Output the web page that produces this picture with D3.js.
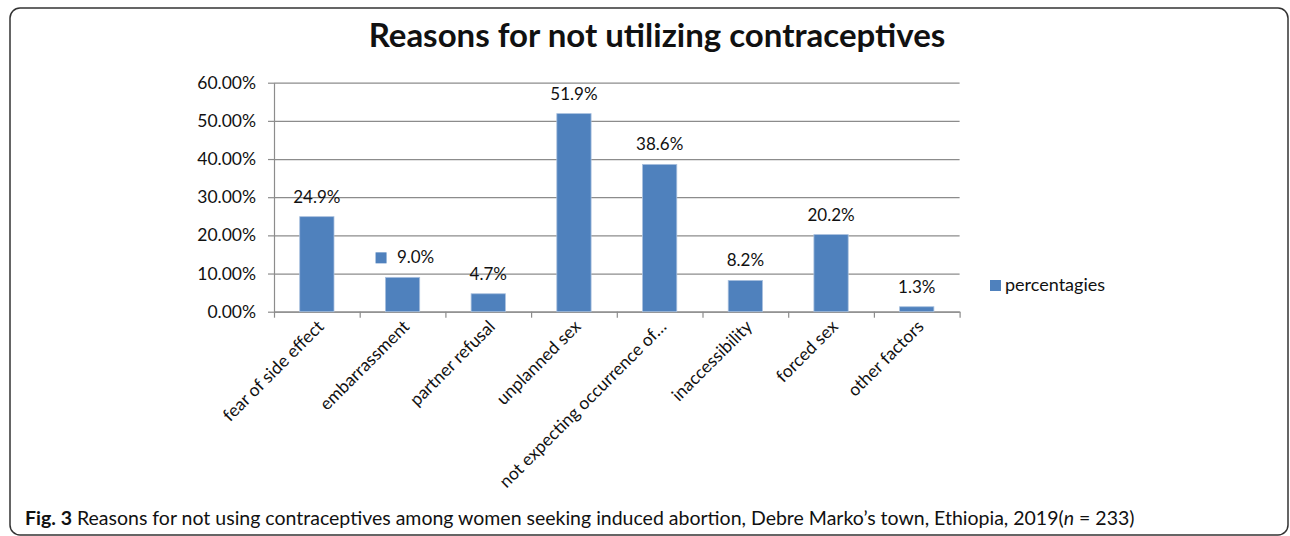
<!DOCTYPE html>
<html>
<head>
<meta charset="utf-8">
<script src="https://cdn.jsdelivr.net/npm/d3@7/dist/d3.min.js"></script>
<style>
  html, body { margin: 0; padding: 0; background: #fff; }
  svg text { font-family: Lato, "Open Sans", sans-serif; fill: #111; }
</style>
</head>
<body>
<div id="root"></div>
<script>
const categories = ['fear of side effect', 'embarrassment', 'partner refusal', 'unplanned sex',
  'not expecting occurrence of…', 'inaccessibility', 'forced sex', 'other factors']
const percentages = [24.9, 9.0, 4.7, 51.9, 38.6, 8.2, 20.2, 1.3]
const yTicks = [0, 10, 20, 30, 40, 50, 60]
const seriesName = 'percentagies'
const chartTitle = 'Reasons for not utilizing contraceptives'

const WIDTH = 1290
const HEIGHT = 536
const PLOT_LEFT = 274
const PLOT_RIGHT = 959.6
const PLOT_TOP = 82.7
const PLOT_BOTTOM = 311.7
const BAR_COLOR = '#4f81bd'
const GRID_COLOR = '#8c8c8c'

const svg = d3.select('#root')
    .append('svg')
    .attr('width', WIDTH)
    .attr('height', HEIGHT)

// outer frame of the figure
svg.append('rect')
    .attr('x', 10)
    .attr('y', 8)
    .attr('width', 1278)
    .attr('height', 527)
    .attr('rx', 10)
    .attr('fill', 'none')
    .attr('stroke', '#333')
    .attr('stroke-width', 1.5)

const xScale = d3.scaleBand()
    .domain(categories)
    .range([PLOT_LEFT, PLOT_RIGHT])
    .paddingInner(0.6)
    .paddingOuter(0.3)

const xBoundary = d3.scaleLinear()
    .domain([0, categories.length])
    .range([PLOT_LEFT, PLOT_RIGHT])

const yScale = d3.scaleLinear()
    .domain([0, 60])
    .range([PLOT_BOTTOM, PLOT_TOP])

// gridlines
svg.append('g')
    .attr('transform', `translate(${PLOT_LEFT},0)`)
    .call(d3.axisLeft(yScale).tickValues(yTicks).tickSize(-(PLOT_RIGHT - PLOT_LEFT)).tickFormat(''))
    .call(g => g.select('.domain').remove())
    .call(g => g.selectAll('line').attr('stroke', GRID_COLOR).attr('stroke-width', 1.2))

// y axis
svg.append('g')
    .attr('id', 'y-axis')
    .attr('transform', `translate(${PLOT_LEFT},0)`)
    .call(d3.axisLeft(yScale).tickValues(yTicks).tickSize(6).tickPadding(12).tickSizeOuter(0)
        .tickFormat(d => d.toFixed(2) + '%'))
    .call(g => g.select('.domain').attr('stroke', GRID_COLOR).attr('stroke-width', 1.2))
    .call(g => g.selectAll('line').attr('stroke', GRID_COLOR).attr('stroke-width', 1.2))
    .call(g => g.selectAll('text').style('font-size', '17.5px').attr('fill', '#111'))

// x axis (ticks between categories)
svg.append('g')
    .attr('id', 'x-axis')
    .attr('transform', `translate(0,${PLOT_BOTTOM})`)
    .call(d3.axisBottom(xBoundary).tickValues(d3.range(categories.length + 1)).tickSize(6).tickSizeOuter(0).tickFormat(''))
    .call(g => g.select('.domain').attr('stroke', GRID_COLOR).attr('stroke-width', 1.2))
    .call(g => g.selectAll('line').attr('stroke', GRID_COLOR).attr('stroke-width', 1.2))

// category labels, rotated
svg.append('g')
    .selectAll('text')
    .data(categories)
    .enter()
    .append('text')
    .attr('transform', d => `translate(${xScale(d) + xScale.bandwidth() / 2 + 8},${PLOT_BOTTOM + 16}) rotate(-45)`)
    .attr('text-anchor', 'end')
    .style('font-size', '17.5px')
    .text(d => d)

// bars
svg.append('g')
    .selectAll('rect')
    .data(percentages)
    .enter()
    .append('rect')
    .attr('x', (_, i) => xScale(categories[i]))
    .attr('y', d => yScale(d))
    .attr('width', xScale.bandwidth())
    .attr('height', d => PLOT_BOTTOM - yScale(d))
    .attr('fill', BAR_COLOR)
    .attr('stroke', '#a9c0de')
    .attr('stroke-width', 0.8)

// data labels
const labels = svg.append('g')
    .selectAll('g')
    .data(percentages)
    .enter()
    .append('g')
    .attr('transform', (d, i) => `translate(${xScale(categories[i]) + xScale.bandwidth() / 2},${yScale(d) - 14})`)

labels.append('text')
    .attr('text-anchor', 'middle')
    .attr('x', (d, i) => i === 1 ? 13 : 0)
    .style('font-size', '17px')
    .text(d => d.toFixed(1) + '%')

// the embarrassment label carries the legend key in the original
labels.filter((d, i) => i === 1)
    .append('rect')
    .attr('x', -27)
    .attr('y', -11)
    .attr('width', 11)
    .attr('height', 11)
    .attr('fill', BAR_COLOR)

// legend
const legend = svg.append('g').attr('transform', 'translate(990,280)')
legend.append('rect')
    .attr('width', 11)
    .attr('height', 11)
    .attr('fill', BAR_COLOR)
legend.append('text')
    .attr('x', 15)
    .attr('y', 11)
    .style('font-size', '18px')
    .text(seriesName)

// title
svg.append('text')
    .attr('x', 657)
    .attr('y', 47)
    .attr('text-anchor', 'middle')
    .style('font-size', '33px')
    .style('font-weight', 'bold')
    .text(chartTitle)

// figure caption
const caption = svg.append('text')
    .attr('x', 25)
    .attr('y', 525)
    .style('font-size', '19.5px')
    .attr('fill', '#222')
caption.append('tspan').style('font-weight', 'bold').text('Fig. 3')
caption.append('tspan').text(' Reasons for not using contraceptives among women seeking induced abortion, Debre Marko’s town, Ethiopia, 2019(')
caption.append('tspan').style('font-style', 'italic').text('n')
caption.append('tspan').text(' = 233)')
</script>
</body>
</html>
